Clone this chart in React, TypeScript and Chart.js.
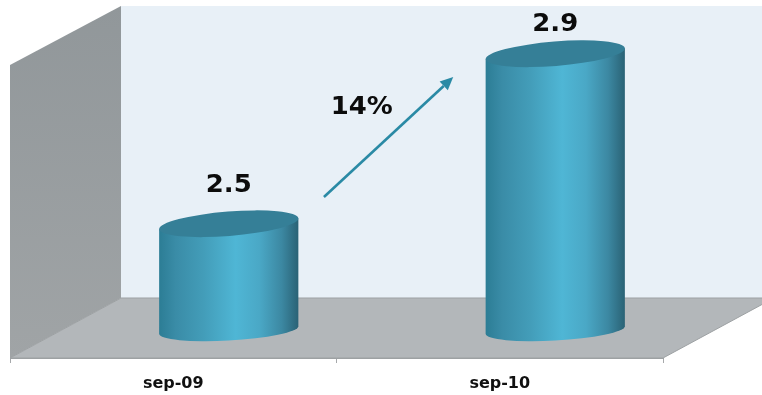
import React, { useEffect, useRef } from "react";
import { Chart, registerables } from "chart.js";

Chart.register(...registerables);

const categories = ["sep-09", "sep-10"];
const seriesValues = [2.5, 2.9];
const valueLabels = ["2.5", "2.9"];
const growthLabel = "14%";
// Growth arrow and its caption, in axis units (category index, value)
const growthArrowIndex = [0.29, 0.686];
const growthArrowValue = [2.563, 2.845];
const growthLabelAt = [0.406, 2.772];

const AXIS_MIN = 2.25;
const AXIS_MAX = 2.9394;

// Oblique projection: back wall offset and the plane the cylinders stand on
const WALL_DX = 111;
const WALL_DY = -60;
const WALL_TOP_DY = -59;
const BAR_DX = 56;
const BAR_DY = -28;

const LABEL_FONT = 'bold 24px "DejaVu Sans"';
const TEAL = "#2a8aa5";

function ellipseSpan(ctx: CanvasRenderingContext2D, cx: number, cy: number, halfW: number, b: number, rot: number, lower: boolean) {
  // Half-width given is the horizontal extent; find the matching major radius
  const s = Math.sin(rot);
  const c = Math.cos(rot);
  const a = Math.sqrt(Math.max(halfW * halfW - b * b * s * s, 1)) / Math.abs(c);
  const t0 = Math.atan2(-b * s, a * c);
  if (lower) ctx.ellipse(cx, cy, a, b, rot, t0, t0 + Math.PI);
  return { a, t0 };
}

function wideText(ctx: CanvasRenderingContext2D, text: string, x: number, y: number) {
  ctx.save();
  ctx.translate(x, y);
  ctx.scale(1.08, 1);
  ctx.fillText(text, 0, 0);
  ctx.restore();
}

const scenePlugin = {
  id: "scene",
  beforeDraw(chart: any) {
    const { ctx, chartArea: area, width } = chart;
    ctx.save();
    ctx.fillStyle = "#ffffff";
    ctx.fillRect(0, 0, width, chart.height);
    // back wall
    ctx.fillStyle = "#e8f0f7";
    ctx.fillRect(area.left + WALL_DX, area.top + WALL_TOP_DY, area.width + 1, area.height);
    // side wall
    const side = ctx.createLinearGradient(0, area.top + WALL_DY, 0, area.bottom);
    side.addColorStop(0, "#91979a");
    side.addColorStop(1, "#a0a4a6");
    ctx.fillStyle = side;
    ctx.beginPath();
    ctx.moveTo(area.left, area.top);
    ctx.lineTo(area.left + WALL_DX, area.top + WALL_TOP_DY);
    ctx.lineTo(area.left + WALL_DX, area.bottom + WALL_DY);
    ctx.lineTo(area.left, area.bottom);
    ctx.closePath();
    ctx.fill();
    // floor
    ctx.fillStyle = "#b3b7ba";
    ctx.strokeStyle = "#9da1a3";
    ctx.lineWidth = 1;
    ctx.beginPath();
    ctx.moveTo(area.left, area.bottom);
    ctx.lineTo(area.left + WALL_DX, area.bottom + WALL_DY);
    ctx.lineTo(area.right + WALL_DX, area.bottom + WALL_DY);
    ctx.lineTo(area.right, area.bottom);
    ctx.closePath();
    ctx.fill();
    ctx.stroke();
    ctx.restore();
  },
  // The stock rectangle is replaced by a tilted cylinder from the same element geometry
  beforeDatasetDraw(chart: any, args: any) {
    const { ctx } = chart;
    const meta = chart.getDatasetMeta(args.index);
    meta.data.forEach((bar: any) => {
      const { x, y, base, width } = bar.getProps(["x", "y", "base", "width"]);
      const cx = x + BAR_DX - 0.5;
      const topY = y + BAR_DY;
      const baseY = base + BAR_DY;
      const half = width / 2;
      const topRot = -0.08;
      const topB = 12.2;
      const baseRot = -0.055;
      const baseB = 10.6;

      const grad = ctx.createLinearGradient(cx - half, 0, cx + half, 0);
      grad.addColorStop(0, "#2c7d95");
      grad.addColorStop(0.12, "#3a8ca7");
      grad.addColorStop(0.32, "#439db9");
      grad.addColorStop(0.55, "#4fb6d5");
      grad.addColorStop(0.72, "#4aa8c6");
      grad.addColorStop(0.88, "#3c88a2");
      grad.addColorStop(1, "#2a6275");

      ctx.save();
      ctx.fillStyle = grad;
      ctx.beginPath();
      ctx.moveTo(cx - half, topY + half * Math.tan(-topRot));
      ctx.lineTo(cx + half, topY + half * Math.tan(topRot));
      const b0 = ellipseSpan(ctx, cx, baseY, half, baseB, baseRot, false);
      ctx.lineTo(
        cx + b0.a * Math.cos(b0.t0) * Math.cos(baseRot) - baseB * Math.sin(b0.t0) * Math.sin(baseRot),
        baseY + b0.a * Math.cos(b0.t0) * Math.sin(baseRot) + baseB * Math.sin(b0.t0) * Math.cos(baseRot)
      );
      ellipseSpan(ctx, cx, baseY, half, baseB, baseRot, true);
      ctx.closePath();
      ctx.fill();

      const t = ellipseSpan(ctx, cx, topY, half, topB, topRot, false);
      ctx.fillStyle = "#357f97";
      ctx.beginPath();
      ctx.ellipse(cx, topY, t.a, topB, topRot, 0, Math.PI * 2);
      ctx.fill();
      ctx.restore();
    });
    return false;
  },
  afterDatasetsDraw(chart: any) {
    const { ctx, scales } = chart;
    const meta = chart.getDatasetMeta(0);
    ctx.save();
    ctx.fillStyle = "#0c0c0c";
    ctx.font = LABEL_FONT;
    ctx.textAlign = "center";
    ctx.textBaseline = "middle";
    const lifts = [38, 29];
    meta.data.forEach((bar: any, i: number) => {
      wideText(ctx, valueLabels[i], bar.x + BAR_DX - 0.5, bar.y + BAR_DY - lifts[i]);
    });
    wideText(
      ctx,
      growthLabel,
      scales.x.getPixelForValue(growthLabelAt[0]) + BAR_DX,
      scales.y.getPixelForValue(growthLabelAt[1]) + BAR_DY
    );

    // growth arrow
    const x0 = scales.x.getPixelForValue(growthArrowIndex[0]) + BAR_DX;
    const x1 = scales.x.getPixelForValue(growthArrowIndex[1]) + BAR_DX;
    const y0 = scales.y.getPixelForValue(growthArrowValue[0]) + BAR_DY;
    const y1 = scales.y.getPixelForValue(growthArrowValue[1]) + BAR_DY;
    const ang = Math.atan2(y1 - y0, x1 - x0);
    const headLen = 13;
    const headHalf = 6;
    const bx = x1 - headLen * Math.cos(ang);
    const by = y1 - headLen * Math.sin(ang);
    ctx.strokeStyle = TEAL;
    ctx.lineWidth = 2.6;
    ctx.beginPath();
    ctx.moveTo(x0, y0);
    ctx.lineTo(bx, by);
    ctx.stroke();
    ctx.fillStyle = TEAL;
    ctx.beginPath();
    ctx.moveTo(x1, y1);
    ctx.lineTo(bx - headHalf * Math.sin(ang), by + headHalf * Math.cos(ang));
    ctx.lineTo(bx + headHalf * Math.sin(ang), by - headHalf * Math.cos(ang));
    ctx.closePath();
    ctx.fill();
    ctx.restore();
  },
};

export default function App() {
  const canvasRef = useRef<HTMLCanvasElement | null>(null);

  useEffect(() => {
    const chart = new Chart(canvasRef.current as HTMLCanvasElement, {
      type: "bar",
      data: {
        labels: categories,
        datasets: [
          {
            data: seriesValues,
            base: AXIS_MIN,
            backgroundColor: "#4fb6d5",
            categoryPercentage: 1,
            barPercentage: 0.4264,
          },
        ],
      },
      options: {
        responsive: false,
        animation: false,
        layout: { padding: { left: 10, right: 99, top: 65, bottom: 0 } },
        plugins: { legend: { display: false }, tooltip: { enabled: false } },
        scales: {
          x: {
            grid: { offset: true, drawOnChartArea: false, tickLength: 5, color: "#a6a9ab" },
            border: { color: "#9da1a3" },
            ticks: {
              color: "#111111",
              font: { family: '"DejaVu Sans"', size: 16, weight: "bold" },
              padding: 11,
              maxRotation: 0,
            },
            afterFit(scale: any) {
              scale.height = 37;
            },
          },
          y: { display: false, min: AXIS_MIN, max: AXIS_MAX },
        },
      },
      plugins: [scenePlugin],
    } as any);
    return () => chart.destroy();
  }, []);

  return (
    <div style={{ position: "absolute", left: 0, top: 0, width: 762, height: 395 }}>
      <canvas ref={canvasRef} width={762} height={395} style={{ display: "block" }} />
    </div>
  );
}
